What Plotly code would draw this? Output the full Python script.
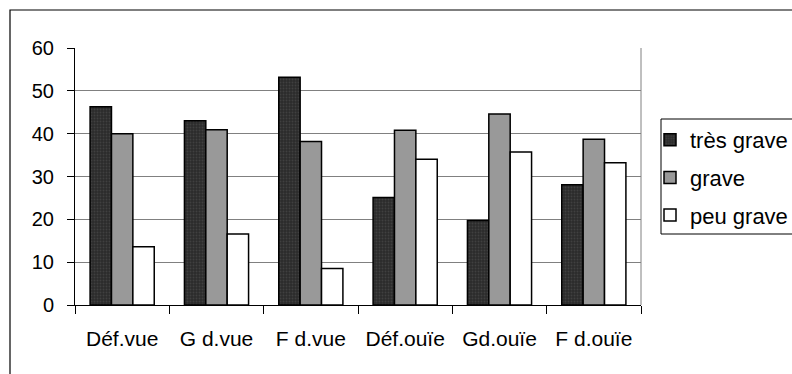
import plotly.graph_objects as go

categories = ["Déf.vue", "G d.vue", "F d.vue", "Déf.ouïe", "Gd.ouïe", "F d.ouïe"]
tres_grave = [46.3, 43.0, 53.2, 25.1, 19.7, 28.1]
grave = [40.0, 40.9, 38.2, 40.8, 44.6, 38.7]
peu_grave = [13.6, 16.6, 8.5, 34.0, 35.7, 33.2]
series_names = ["très grave", "grave", "peu grave"]
y_ticks = [0, 10, 20, 30, 40, 50, 60]

FONT = "Arial, Liberation Sans, sans-serif"

fig = go.Figure()
fig.add_trace(go.Bar(
    x=categories, y=tres_grave, name=series_names[0], legendgroup="a",
    marker=dict(color="#2b2b2b", line=dict(color="black", width=1.5),
                pattern=dict(shape=".", fgcolor="#555555", bgcolor="#2b2b2b", size=3, solidity=0.3)),
))
fig.add_trace(go.Bar(
    x=categories, y=grave, name=series_names[1], legendgroup="b",
    marker=dict(color="#999999", line=dict(color="black", width=1.5)),
))
fig.add_trace(go.Bar(
    x=categories, y=peu_grave, name=series_names[2], legendgroup="c",
    marker=dict(color="#ffffff", line=dict(color="black", width=1.5)),
))

fig.update_layout(
    width=792, height=374,
    margin=dict(l=75, r=151, t=48, b=69, autoexpand=False),
    paper_bgcolor="white", plot_bgcolor="white",
    barmode="group", bargap=0.32, bargroupgap=0,
    font=dict(family=FONT, size=20, color="black"),
    showlegend=True,
    legend=dict(
        x=(650 - 75) / 566, y=0.7237, xanchor="left", yanchor="top",
        borderwidth=0, bgcolor="rgba(0,0,0,0)",
        font=dict(family=FONT, size=22, color="black"),
        tracegroupgap=6, traceorder="grouped",
    ),
    xaxis=dict(
        showline=True, linecolor="black", linewidth=1,
        ticks="outside", tickson="boundaries", ticklen=8, tickcolor="black",
        showgrid=False, ticklabelstandoff=15,
        tickfont=dict(family=FONT, size=21, color="black"),
    ),
    yaxis=dict(
        range=[0, 60], tickvals=y_ticks,
        showline=True, linecolor="black", linewidth=1,
        ticks="outside", ticklen=7, tickcolor="black",
        showgrid=True, gridcolor="#808080", gridwidth=1,
        zeroline=False, ticklabelstandoff=9,
        tickfont=dict(family=FONT, size=20, color="black"),
    ),
    shapes=[
        dict(type="line", xref="paper", yref="paper", x0=1, x1=1, y0=0, y1=1,
             line=dict(color="#808080", width=1)),
        dict(type="rect", xref="paper", yref="paper",
             x0=(10 - 75) / 566, x1=1.6, y0=-0.5, y1=(305 - 10) / 257,
             line=dict(color="black", width=1.2), fillcolor="rgba(0,0,0,0)", layer="below"),
        dict(type="rect", xref="paper", yref="paper",
             x0=(661 - 75) / 566, x1=1.6, y0=(305 - 234) / 257, y1=(305 - 119) / 257,
             line=dict(color="black", width=1), fillcolor="rgba(0,0,0,0)", layer="below"),
    ],
)

fig.write_html("out.html")
